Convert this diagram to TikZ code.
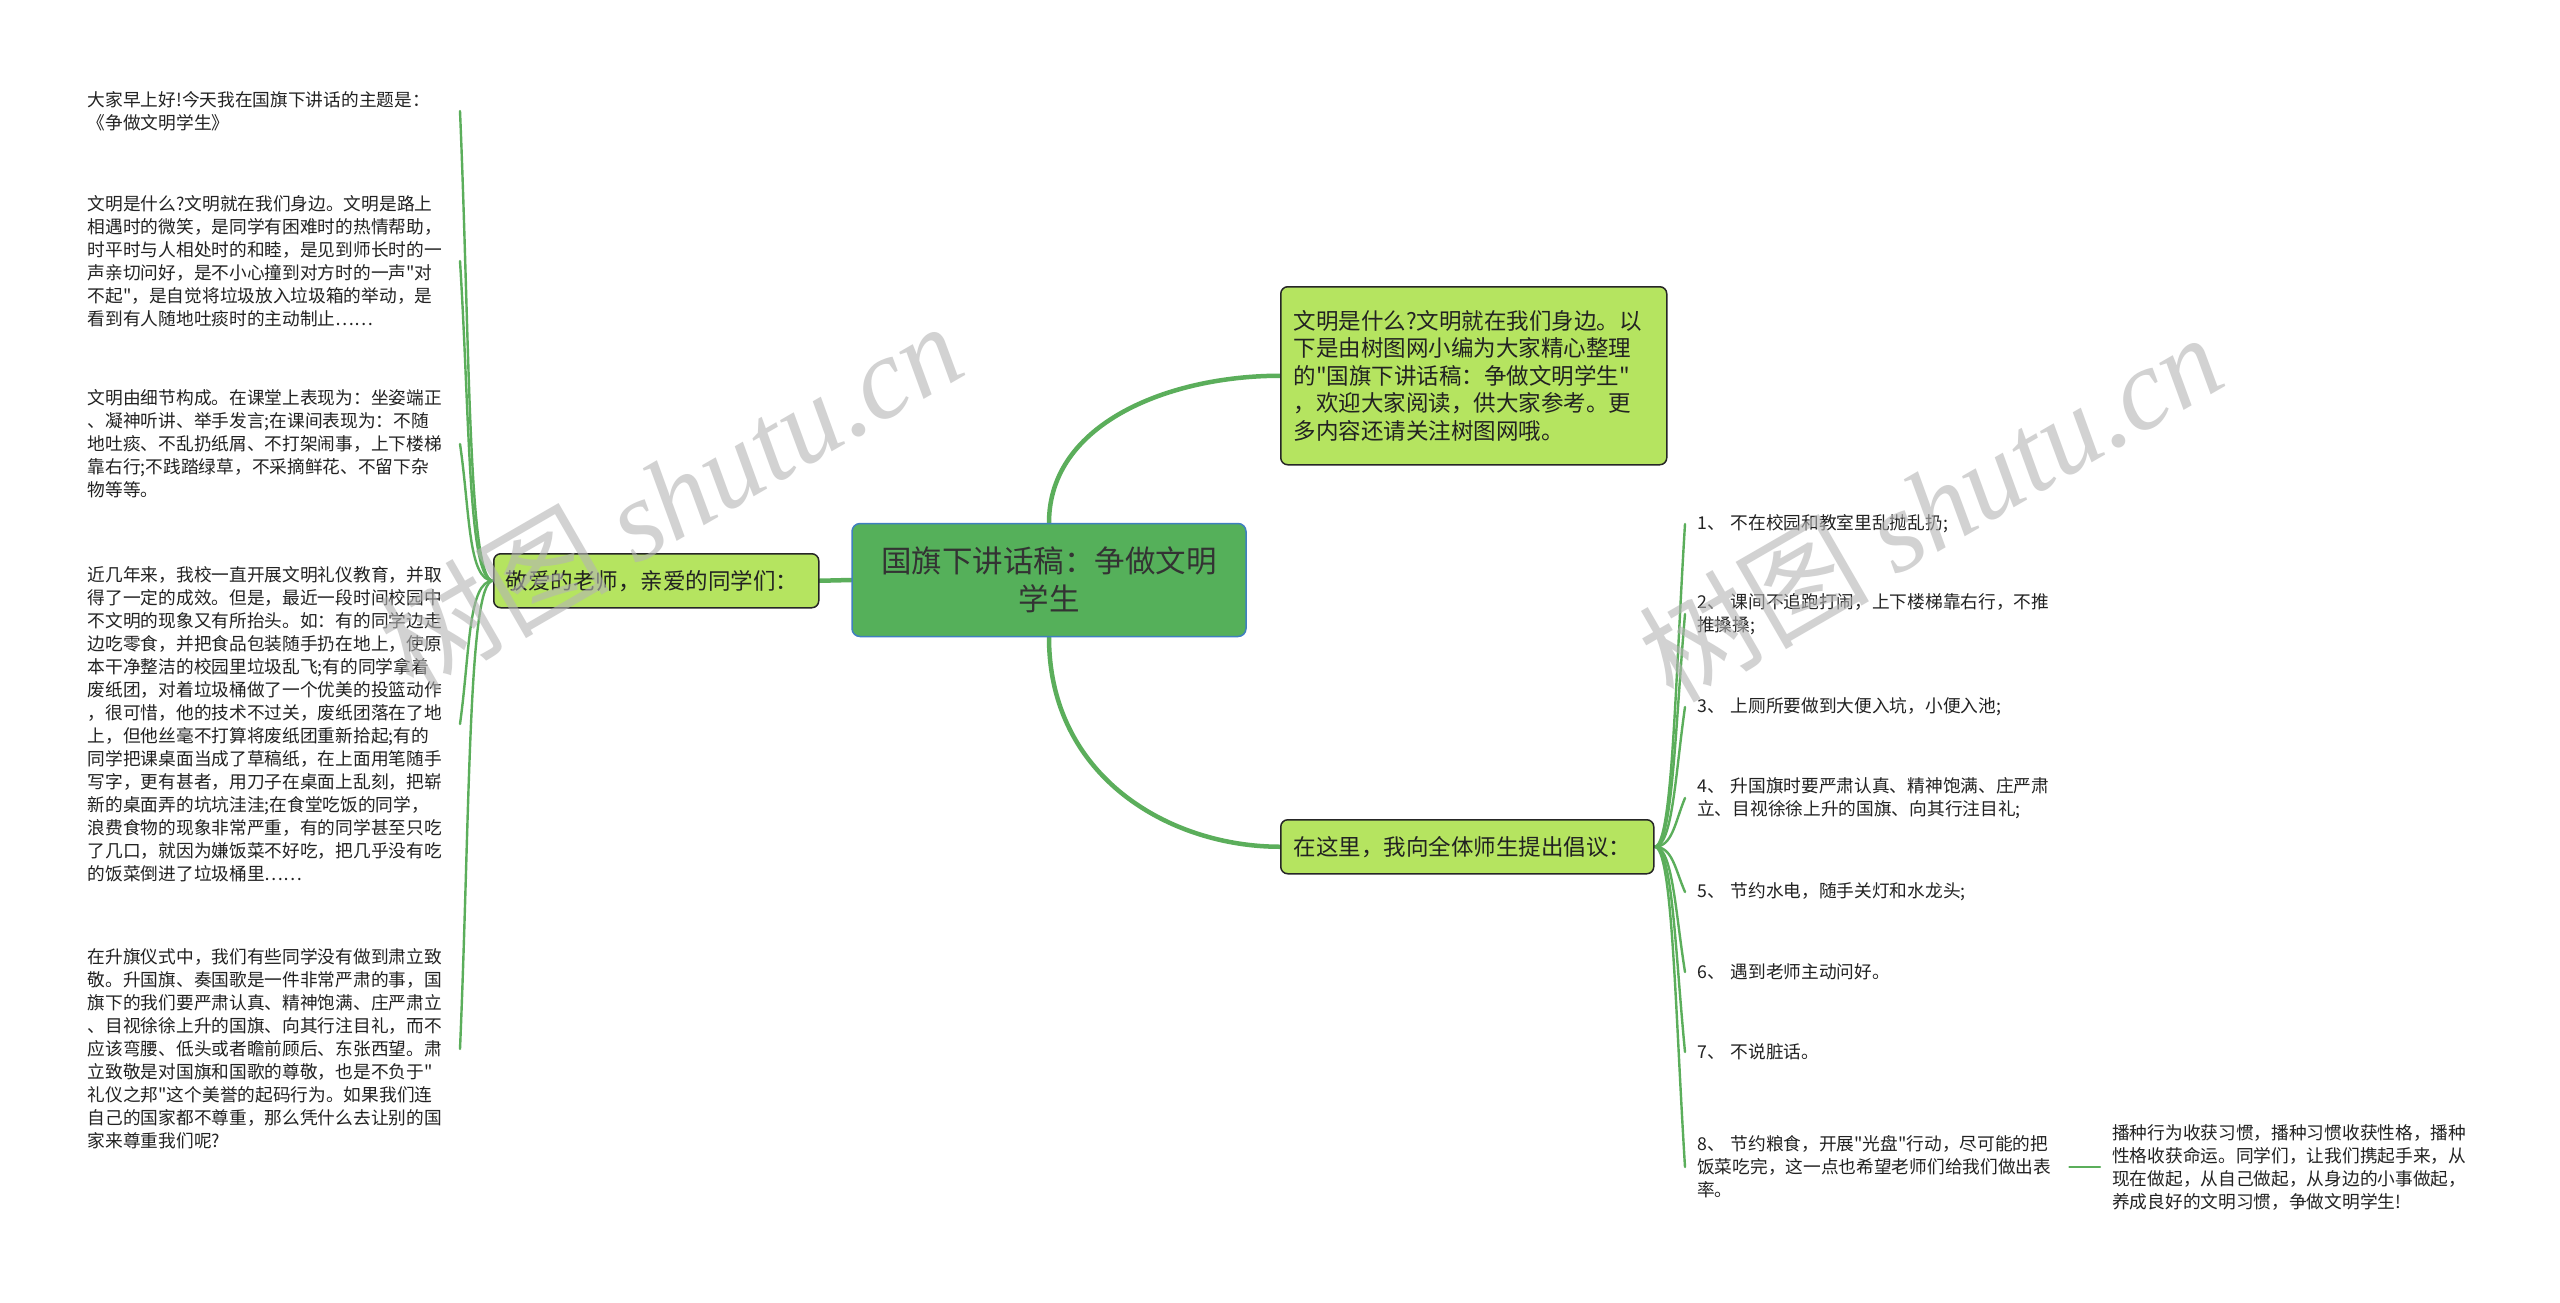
\documentclass[tikz,border=0pt]{standalone}
\usepackage{fontspec}
\setmainfont{Noto Sans CJK SC}[Ligatures=TeXOff]
\newfontfamily\wmserif{Liberation Serif}
\usetikzlibrary{calc}
\definecolor{linkgreen}{HTML}{5BAE5B}
\definecolor{rootfill}{HTML}{55B05A}
\definecolor{rootdraw}{HTML}{3F7FBF}
\definecolor{subfill}{HTML}{B5E460}
\definecolor{txtdark}{HTML}{222222}
\definecolor{wmgray}{HTML}{B4B4B4}
\pgfdeclarelayer{bg}
\pgfsetlayers{bg,main}
\begin{document}
\begin{tikzpicture}[x=1pt,y=-1pt,
  link/.style={draw=linkgreen, line width=4.5pt, line cap=round},
  twig/.style={draw=linkgreen, line width=2.4pt, line cap=round},
  rootbox/.style={draw=rootdraw, fill=rootfill, line width=1.5pt, rounded corners=8pt,
    text=black!80, align=center, font=\fontsize{30.5}{38}\selectfont},
  subbox/.style={draw=black!85, fill=subfill, line width=1.5pt, rounded corners=7pt,
    text=txtdark, align=left, inner xsep=13pt, font=\fontsize{22.5}{27.5}\selectfont},
  leafl/.style={anchor=east, text width=366pt, inner xsep=6pt, inner ysep=2pt,
    align=left, text=txtdark, font=\fontsize{17.7}{23}\selectfont},
  leafr/.style={anchor=west, text width=360pt, inner xsep=12pt, inner ysep=2pt,
    align=left, text=txtdark, font=\fontsize{17.7}{23}\selectfont},
  wmark/.style={rotate=30, text=wmgray, opacity=0.6, font=\fontsize{115}{115}\selectfont}
]
\useasboundingbox (0,0) rectangle (2560,1302);

% central and first-level nodes
\node[rootbox, minimum width=394pt, minimum height=113pt] (root) at (1049,580)
  {国旗下讲话稿：争做文明\\学生};
\node[subbox, anchor=north west, text width=301pt, minimum height=54pt, inner xsep=12pt] (greet) at (493,553)
  {敬爱的老师，亲爱的同学们：};
\node[subbox, anchor=north west, text width=360pt, minimum height=178pt] (intro) at (1280,286)
  {文明是什么?文明就在我们身边。以\\下是由树图网小编为大家精心整理\\的"国旗下讲话稿：争做文明学生"\\，欢迎大家阅读，供大家参考。更\\多内容还请关注树图网哦。};
\node[subbox, anchor=north west, text width=347pt, minimum height=54pt] (prop) at (1280,819)
  {在这里，我向全体师生提出倡议：};

% left leaves
\node[leafl] (l1) at (460,111) {大家早上好!今天我在国旗下讲话的主题是：\\《争做文明学生》};
\node[leafl] (l2) at (460,261) {文明是什么?文明就在我们身边。文明是路上\\相遇时的微笑，是同学有困难时的热情帮助，\\时平时与人相处时的和睦，是见到师长时的一\\声亲切问好，是不小心撞到对方时的一声"对\\不起"，是自觉将垃圾放入垃圾箱的举动，是\\看到有人随地吐痰时的主动制止……};
\node[leafl] (l3) at (460,444) {文明由细节构成。在课堂上表现为：坐姿端正\\、凝神听讲、举手发言;在课间表现为：不随\\地吐痰、不乱扔纸屑、不打架闹事，上下楼梯\\靠右行;不践踏绿草，不采摘鲜花、不留下杂\\物等等。};
\node[leafl] (l4) at (460,724) {近几年来，我校一直开展文明礼仪教育，并取\\得了一定的成效。但是，最近一段时间校园中\\不文明的现象又有所抬头。如：有的同学边走\\边吃零食，并把食品包装随手扔在地上，使原\\本干净整洁的校园里垃圾乱飞;有的同学拿着\\废纸团，对着垃圾桶做了一个优美的投篮动作\\，很可惜，他的技术不过关，废纸团落在了地\\上，但他丝毫不打算将废纸团重新拾起;有的\\同学把课桌面当成了草稿纸，在上面用笔随手\\写字，更有甚者，用刀子在桌面上乱刻，把崭\\新的桌面弄的坑坑洼洼;在食堂吃饭的同学，\\浪费食物的现象非常严重，有的同学甚至只吃\\了几口，就因为嫌饭菜不好吃，把几乎没有吃\\的饭菜倒进了垃圾桶里……};
\node[leafl] (l5) at (460,1049) {在升旗仪式中，我们有些同学没有做到肃立致\\敬。升国旗、奏国歌是一件非常严肃的事，国\\旗下的我们要严肃认真、精神饱满、庄严肃立\\、目视徐徐上升的国旗、向其行注目礼，而不\\应该弯腰、低头或者瞻前顾后、东张西望。肃\\立致敬是对国旗和国歌的尊敬，也是不负于"\\礼仪之邦"这个美誉的起码行为。如果我们连\\自己的国家都不尊重，那么凭什么去让别的国\\家来尊重我们呢?};

% right items
\node[leafr] (r1) at (1685,524) {1、~不在校园和教室里乱抛乱扔;};
\node[leafr] (r2) at (1685,614) {2、~课间不追跑打闹，上下楼梯靠右行，不推\\推搡搡;};
\node[leafr] (r3) at (1685,707) {3、~上厕所要做到大便入坑，小便入池;};
\node[leafr] (r4) at (1685,798) {4、~升国旗时要严肃认真、精神饱满、庄严肃\\立、目视徐徐上升的国旗、向其行注目礼;};
\node[leafr] (r5) at (1685,892) {5、~节约水电，随手关灯和水龙头;};
\node[leafr] (r6) at (1685,972) {6、~遇到老师主动问好。};
\node[leafr] (r7) at (1685,1052) {7、~不说脏话。};
\node[leafr] (r8) at (1685,1167) {8、~节约粮食，开展"光盘"行动，尽可能的把\\饭菜吃完，这一点也希望老师们给我们做出表\\率。};
\node[leafr] (r9) at (2100,1167) {播种行为收获习惯，播种习惯收获性格，播种\\性格收获命运。同学们，让我们携起手来，从\\现在做起，从自己做起，从身边的小事做起，\\养成良好的文明习惯，争做文明学生!};

% connectors (behind the nodes)
\begin{pgfonlayer}{bg}
\fill[white] (0,0) rectangle (2560,1302);
\draw[link] (root.west) -- (greet.east);
\draw[link] (root.north) .. controls +(0,-100) and +(-110,0) .. (intro.west);
\draw[link] (root.south) .. controls +(0,140) and +(-110,0) .. (prop.west);

\draw[twig] (greet.west) .. controls +(-25,0) and +(10,235) .. (l1.east);
\draw[twig] (greet.west) .. controls +(-25,0) and +(10,160) .. (l2.east);
\draw[twig] (greet.west) .. controls +(-25,0) and +(10,68) .. (l3.east);
\draw[twig] (greet.west) .. controls +(-25,0) and +(10,-72) .. (l4.east);
\draw[twig] (greet.west) .. controls +(-25,0) and +(10,-235) .. (l5.east);

\draw[twig] (prop.east) .. controls +(18,0) and +(-10,161) .. (r1.west);
\draw[twig] (prop.east) .. controls +(18,0) and +(-10,116) .. (r2.west);
\draw[twig] (prop.east) .. controls +(18,0) and +(-10,70) .. (r3.west);
\draw[twig] (prop.east) .. controls +(18,0) and +(-10,24) .. (r4.west);
\draw[twig] (prop.east) .. controls +(18,0) and +(-10,-23) .. (r5.west);
\draw[twig] (prop.east) .. controls +(18,0) and +(-10,-63) .. (r6.west);
\draw[twig] (prop.east) .. controls +(18,0) and +(-10,-103) .. (r7.west);
\draw[twig] (prop.east) .. controls +(18,0) and +(-10,-160) .. (r8.west);
\draw[twig] (r8.east) -- (r9.west);
\end{pgfonlayer}

% watermarks
\node[wmark] (wm1) at (670,495) {树图 {\wmserif\itshape shutu.cn}};
\node[wmark] (wm2) at (1930,506) {树图 {\wmserif\itshape shutu.cn}};
\end{tikzpicture}
\end{document}
